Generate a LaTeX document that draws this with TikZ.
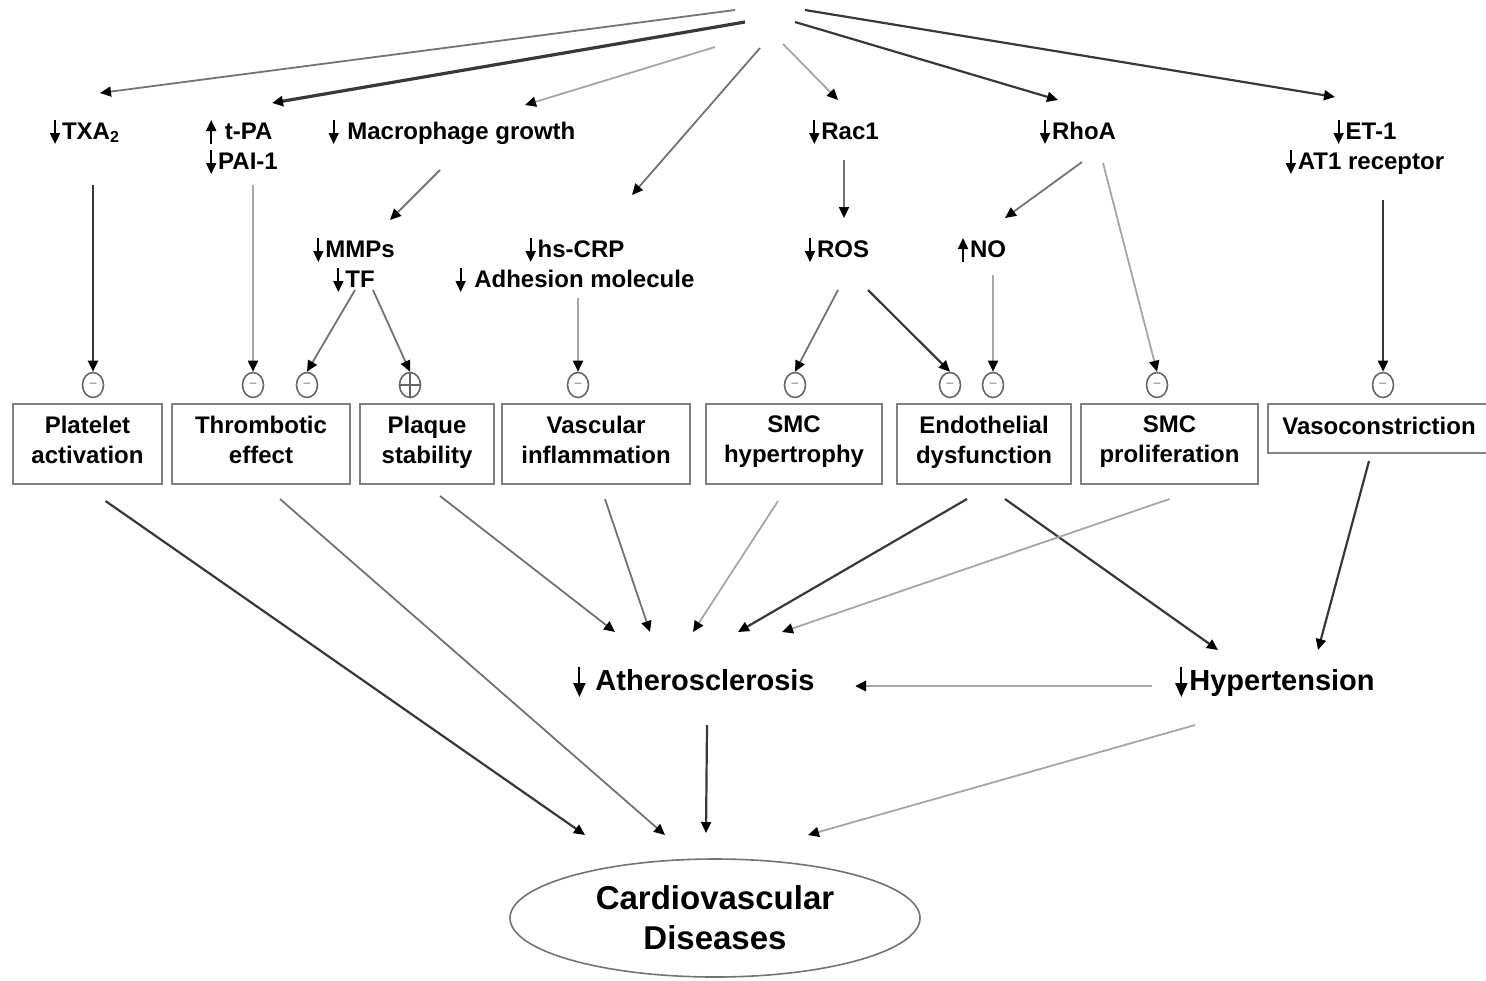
\documentclass[tikz,border=0pt]{standalone}
\usepackage{fontspec}
\setmainfont{Liberation Sans}
\usetikzlibrary{arrows.meta,shapes.geometric,calc}
\newcommand\dn{\tikz[baseline=0pt,x=1pt,y=1pt]\draw[black,line width=0.9pt,-{Triangle[length=5.5pt,width=5pt]}](0,9.5)--(0,-2.5);\kern1pt}
\newcommand\upa{\tikz[baseline=0pt,x=1pt,y=1pt]\draw[black,line width=0.9pt,-{Triangle[length=5.5pt,width=5pt]}](0,-2.5)--(0,9.5);\kern1pt}
\newcommand\dnb{\tikz[baseline=0pt,x=1pt,y=1pt]\draw[black,line width=1.1pt,-{Triangle[length=7pt,width=6pt]}](0,11.5)--(0,-3.5);\kern1pt}
\begin{document}
\begin{tikzpicture}[x=0.5pt,y=-0.5pt,
  font=\fontsize{12}{15}\selectfont\bfseries,
  lbl/.style={inner sep=1pt, align=center},
  box/.style={draw=black!50, line width=1pt, minimum height=40pt, align=center, inner sep=0pt,
    execute at begin node=\strut, execute at end node={\rule[-3pt]{0pt}{3pt}}},
  sgn/.style={ellipse, draw=black!60, line width=0.8pt, minimum width=10.5pt, minimum height=12.5pt, inner sep=0pt},
  con/.style={-{Triangle[length=5.5pt,width=5pt,color=black]}, line width=0.9pt},
  dk/.style={con, draw=black!78, line width=1.1pt},
  md/.style={con, draw=black!55},
  lt/.style={con, draw=black!35}]
\useasboundingbox (0,0) rectangle (1486,980);

% hidden source (cut off at the top)
\coordinate (sa) at (735,10);
\coordinate (sb) at (745,22);
\coordinate (sc) at (715,47);
\coordinate (sd) at (760,48);
\coordinate (se) at (783,44);
\coordinate (sf) at (795,22);
\coordinate (sg) at (805,10);

% first-level labels
\node[lbl] (txa) at (85,132) {\dn TXA\textsubscript{2}};
\node[lbl, align=left] (tpa) at (242,147) {\upa\ t-PA\\\dn PAI-1};
\node[lbl] (mac) at (452,132) {\dn\ Macrophage growth};
\node[lbl] (rac) at (844,132) {\dn Rac1};
\node[lbl] (rhoa) at (1078,132) {\dn RhoA};
\node[lbl] (et1) at (1365,147) {\dn ET-1\\\dn AT1 receptor};

% second-level labels
\node[lbl] (mmp) at (354,265) {\dn MMPs\\\dn TF};
\node[lbl] (crp) at (575,265) {\dn hs-CRP\\\dn\ Adhesion molecule};
\node[lbl] (ros) at (837,250) {\dn ROS};
\node[lbl] (no) at (982,250) {\upa NO};

% sign circles
\foreach \n/\x in {c1/93,c2/253,c3/307,c5/578,c6/795,c7/950,c8/993,c9/1157,c10/1383}
  \node[sgn] (\n) at (\x,385) {\fontsize{7}{7}\selectfont\color{black!35}–};
\node[sgn] (c4) at (410,385) {};
\draw[black!60, line width=0.8pt] (c4.north) -- (c4.south) (c4.west) -- (c4.east);

% boxes
\node[box, minimum width=74.5pt] (plat) at (87.5,444) {Platelet\\activation};
\node[box, minimum width=89pt] (thr) at (261,444) {Thrombotic\\effect};
\node[box, minimum width=67pt] (plq) at (427,444) {Plaque\\stability};
\node[box, minimum width=94pt] (vas) at (596,444) {Vascular\\inflammation};
\node[box, minimum width=88pt] (smch) at (794,444) {SMC\\hypertrophy};
\node[box, minimum width=87pt] (endo) at (984,444) {Endothelial\\dysfunction};
\node[box, minimum width=88.5pt] (smcp) at (1169.5,444) {SMC\\proliferation};
\node[box, minimum width=111pt, minimum height=24.5pt] (vaso) at (1379,428.5) {Vasoconstriction};

% outcomes
\node[lbl, font=\fontsize{14.5}{17}\selectfont\bfseries] (ath) at (694,682) {\dnb\ Atherosclerosis};
\node[lbl, font=\fontsize{14.5}{17}\selectfont\bfseries] (hyp) at (1275,682) {\dnb Hypertension};
\node[ellipse, draw=black!55, line width=0.8pt, minimum width=205pt, minimum height=59pt, align=center,
      font=\fontsize{16.5}{20}\selectfont\bfseries] (cvd) at (715,918) {Cardiovascular\\Diseases};

% top arrows
\draw[md] (sa) -- ($(txa)+(15,-39)$);
\draw[dk, line width=1.6pt] (sb) -- ($(tpa)+(30,-44)$);
\draw[lt] (sc) -- ($(mac)+(73,-27)$);
\draw[md] (sd) -- ($(crp)+(57,-70)$);
\draw[lt] (se) -- ($(rac)+(-6,-32)$);
\draw[dk] (sf) -- ($(rhoa)+(-20,-32)$);
\draw[dk] (sg) -- ($(et1)+(-30,-50)$);

% to sign circles
\draw[dk] ($(txa)+(8,53)$) -- (c1.north);
\draw[lt] ($(tpa)+(11,38)$) -- (c2.north);
\draw[md] ($(mac)+(-12,38)$) -- ($(mmp)+(36,-45)$);
\draw[md] ($(mmp)+(1,25)$) -- (c3.north);
\draw[md] ($(mmp)+(19,25)$) -- (c4.north);
\draw[lt] ($(crp)+(3,33)$) -- (c5.north);
\draw[md] ($(rac)+(0,28)$) -- ($(ros)+(7,-32)$);
\draw[md] ($(ros)+(1,40)$) -- (c6.north);
\draw[dk] ($(ros)+(31,40)$) -- (c7.north);
\draw[lt] ($(no)+(11,25)$) -- (c8.north);
\draw[md] ($(rhoa)+(4,30)$) -- ($(no)+(23,-32)$);
\draw[lt] ($(rhoa)+(25,31)$) -- (c9.north);
\draw[dk] ($(et1)+(18,53)$) -- (c10.north);

% lower arrows
\draw[dk] ($(plat.south)+(18,16)$) -- ($(cvd)+(-130,-83)$);
\draw[md] ($(thr.south)+(19,14)$) -- ($(cvd)+(-50,-83)$);
\draw[md] ($(plq.south)+(13,11)$) -- ($(ath)+(-79,-50)$);
\draw[md] ($(vas.south)+(9,14)$) -- ($(ath)+(-44,-50)$);
\draw[lt] ($(smch.south)+(-16,16)$) -- ($(ath)+(-1,-50)$);
\draw[dk] ($(endo.south)+(-17,14)$) -- ($(ath)+(44,-50)$);
\draw[dk] ($(endo.south)+(21,14)$) -- ($(hyp)+(-57,-32)$);
\draw[lt] ($(smcp.south)+(0,14)$) -- ($(ath)+(88,-50)$);
\draw[dk] ($(vaso.south)+(-10,7)$) -- ($(hyp)+(43,-32)$);
\draw[lt, line width=1.3pt] ($(hyp)+(-123,4)$) -- ($(ath)+(161,4)$);
\draw[dk] ($(ath)+(13,43)$) -- ($(cvd)+(-9,-85)$);
\draw[lt] ($(hyp)+(-80,43)$) -- ($(cvd)+(93,-83)$);
\end{tikzpicture}
\end{document}
